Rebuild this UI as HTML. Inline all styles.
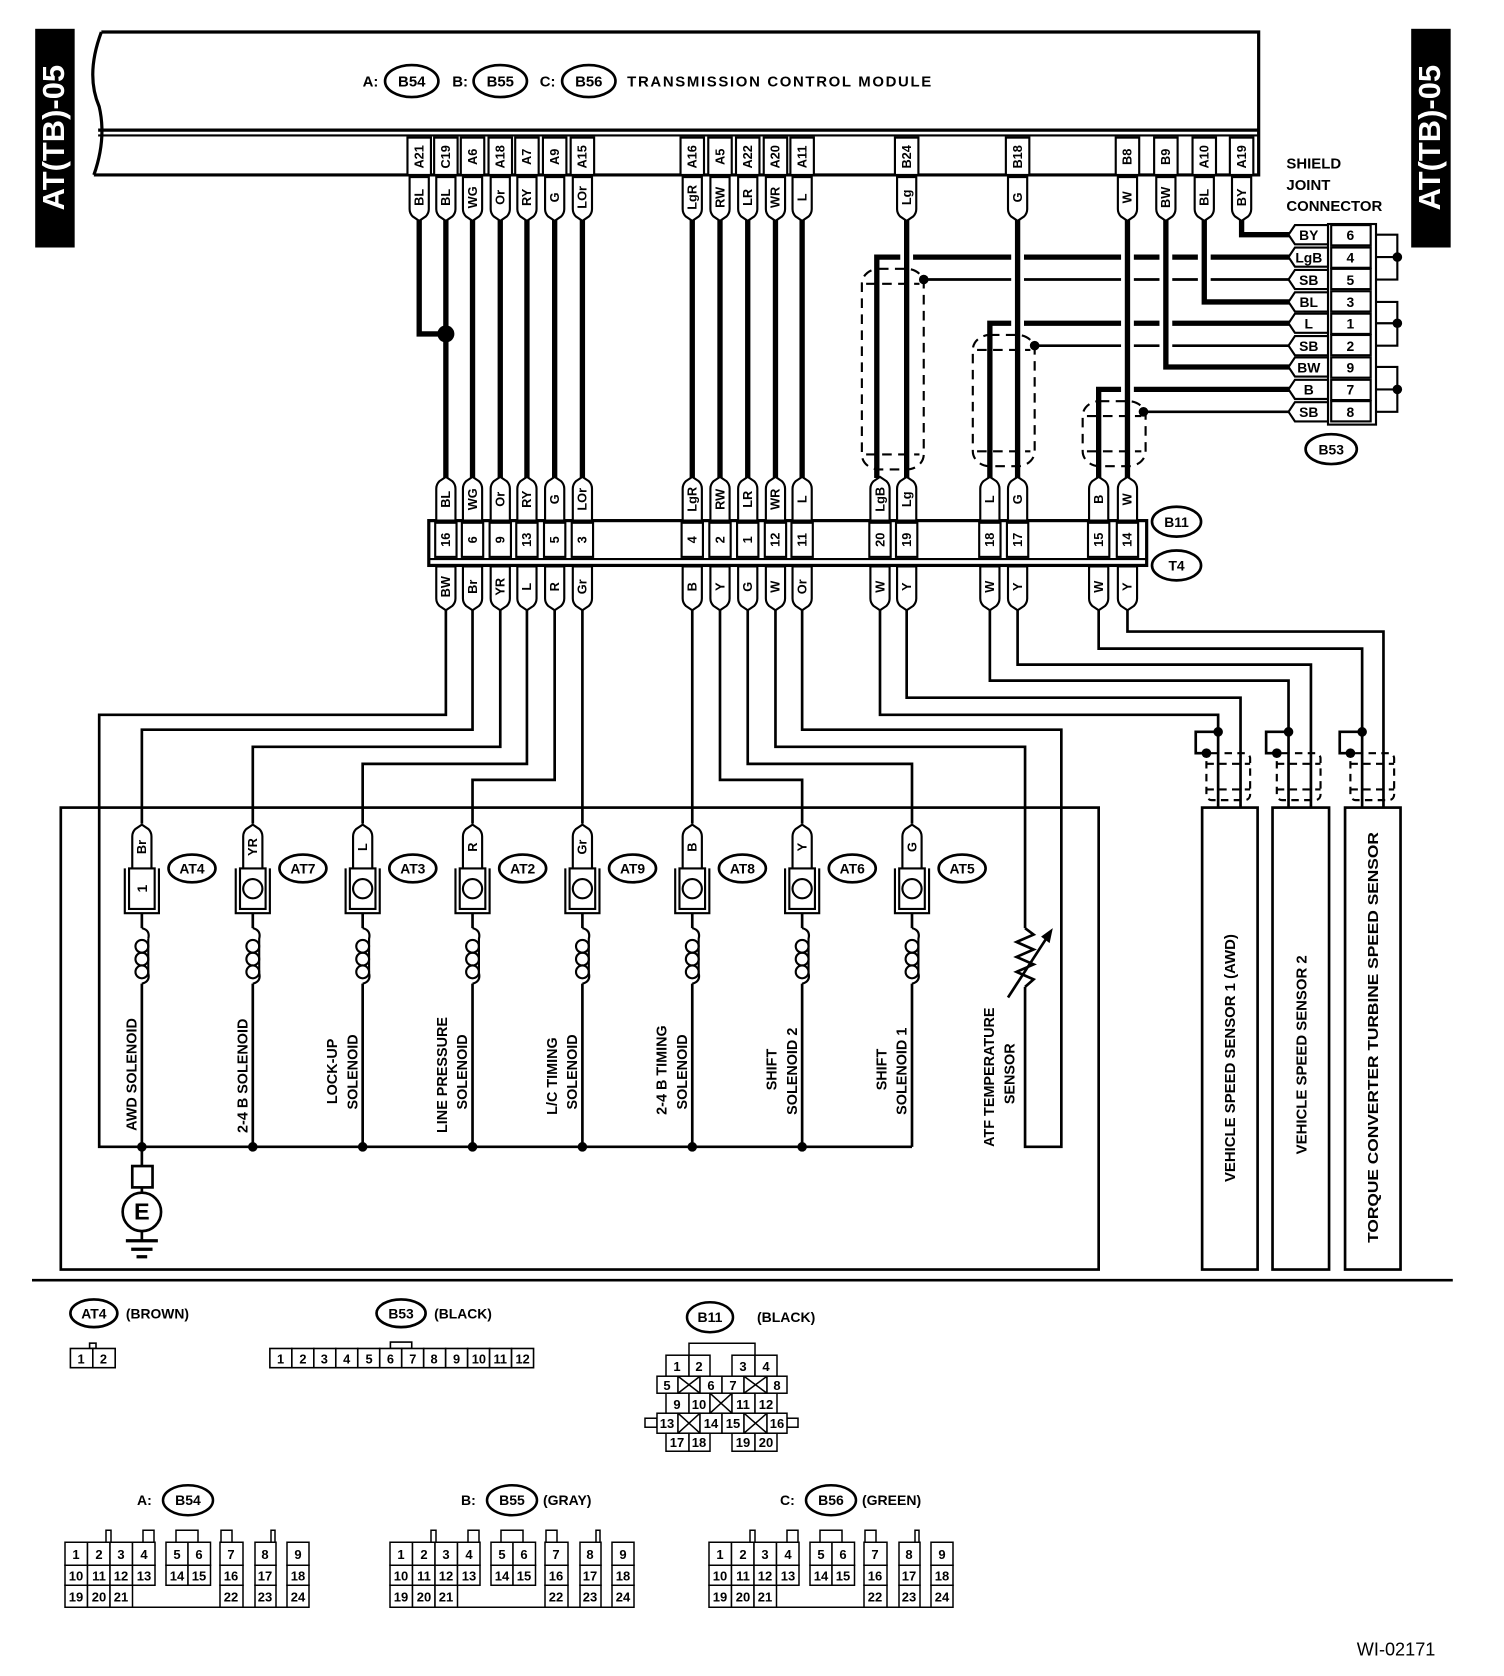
<!DOCTYPE html>
<html><head><meta charset="utf-8"><style>
html,body{margin:0;padding:0;background:#fff}
svg{display:block}
text{font-family:"Liberation Sans",Arial,sans-serif;font-weight:bold;fill:#000}
</style></head><body>
<svg xmlns="http://www.w3.org/2000/svg" width="1504" height="1676" viewBox="0 0 1410 1571" preserveAspectRatio="none">
<defs>
<path id="td" d="M-9,0 H9 V30 Q9,34 6,37 L0,41 L-6,37 Q-9,34 -9,30 Z" fill="#fff" stroke="#000" stroke-width="2"/>
<path id="tl" d="M0,-9 H-31 L-37,0 L-31,9 H0 Z" fill="#fff" stroke="#000" stroke-width="2"/>
</defs>
<rect width="1410" height="1571" fill="#fff"/>

<!-- side tags -->
<rect x="33" y="27" width="37" height="205" fill="#000"/>
<text transform="translate(60,129) rotate(-90)" text-anchor="middle" font-size="29" style="fill:#fff">AT(TB)-05</text>
<rect x="1323" y="27" width="37" height="205" fill="#000"/>
<text transform="translate(1350,129) rotate(-90)" text-anchor="middle" font-size="29" style="fill:#fff">AT(TB)-05</text>

<!-- TCM box -->
<g fill="none" stroke="#000" stroke-width="3">
<path d="M95,30 H1180 V164 H88"/>
<path d="M95,30 Q80,70 93,100 Q100,130 88,164"/>
<line x1="92" y1="122" x2="1180" y2="122"/>
<line x1="92" y1="127" x2="1180" y2="127" stroke-width="2"/>
</g>
<text x="340" y="81" font-size="14">A:</text>
<ellipse cx="386" cy="76" rx="25" ry="15" fill="#fff" stroke="#000" stroke-width="2.5"/><text x="386" y="81" font-size="14" text-anchor="middle">B54</text>
<text x="424" y="81" font-size="14">B:</text>
<ellipse cx="469" cy="76" rx="25" ry="15" fill="#fff" stroke="#000" stroke-width="2.5"/><text x="469" y="81" font-size="14" text-anchor="middle">B55</text>
<text x="506" y="81" font-size="14">C:</text>
<ellipse cx="552" cy="76" rx="25" ry="15" fill="#fff" stroke="#000" stroke-width="2.5"/><text x="552" y="81" font-size="14" text-anchor="middle">B56</text>
<text x="588" y="81" font-size="14" textLength="285">TRANSMISSION CONTROL MODULE</text>

<!-- pin label boxes -->
<g fill="#fff" stroke="#000" stroke-width="2">
<rect x="382" y="129" width="22" height="35"/><rect x="407" y="129" width="22" height="35"/><rect x="432" y="129" width="22" height="35"/><rect x="458" y="129" width="22" height="35"/><rect x="483" y="129" width="22" height="35"/><rect x="509" y="129" width="22" height="35"/><rect x="535" y="129" width="22" height="35"/>
<rect x="638" y="129" width="22" height="35"/><rect x="664" y="129" width="22" height="35"/><rect x="690" y="129" width="22" height="35"/><rect x="716" y="129" width="22" height="35"/><rect x="741" y="129" width="22" height="35"/>
<rect x="839" y="129" width="22" height="35"/><rect x="943" y="129" width="22" height="35"/>
<rect x="1046" y="129" width="22" height="35"/><rect x="1082" y="129" width="22" height="35"/><rect x="1118" y="129" width="22" height="35"/><rect x="1153" y="129" width="22" height="35"/>
</g>
<g font-size="12" text-anchor="middle">
<text transform="translate(397,147) rotate(-90)">A21</text><text transform="translate(422,147) rotate(-90)">C19</text><text transform="translate(447,147) rotate(-90)">A6</text><text transform="translate(473,147) rotate(-90)">A18</text><text transform="translate(498,147) rotate(-90)">A7</text><text transform="translate(524,147) rotate(-90)">A9</text><text transform="translate(550,147) rotate(-90)">A15</text>
<text transform="translate(653,147) rotate(-90)">A16</text><text transform="translate(679,147) rotate(-90)">A5</text><text transform="translate(705,147) rotate(-90)">A22</text><text transform="translate(731,147) rotate(-90)">A20</text><text transform="translate(756,147) rotate(-90)">A11</text>
<text transform="translate(854,147) rotate(-90)">B24</text><text transform="translate(958,147) rotate(-90)">B18</text>
<text transform="translate(1061,147) rotate(-90)">B8</text><text transform="translate(1097,147) rotate(-90)">B9</text><text transform="translate(1133,147) rotate(-90)">A10</text><text transform="translate(1168,147) rotate(-90)">A19</text>
</g>

<!-- thick horizontal wires -->
<g fill="none" stroke="#000" stroke-width="5">
<path d="M1210,241 H822 V448"/>
<path d="M1210,303 H928 V448"/>
<path d="M1210,365 H1030 V448"/>
</g>
<g fill="none" stroke="#000" stroke-width="2.5">
<path d="M1210,262 H866"/><path d="M1210,324 H970"/><path d="M1210,386 H1072"/>
</g>
<!-- halos -->
<g fill="none" stroke="#fff" stroke-width="12">
<path d="M850,225 V440"/><path d="M954,225 V440"/><path d="M1057,225 V440"/>
<path d="M1093,225 V337"/><path d="M1129,225 V276"/>
</g>
<!-- verticals -->
<g fill="none" stroke="#000" stroke-width="5">
<path d="M393,206 V313 H418"/>
<path d="M418,206 V448"/><path d="M443,206 V448"/><path d="M469,206 V448"/><path d="M494,206 V448"/><path d="M520,206 V448"/><path d="M546,206 V448"/>
<path d="M649,206 V448"/><path d="M675,206 V448"/><path d="M701,206 V448"/><path d="M727,206 V448"/><path d="M752,206 V448"/>
<path d="M850,206 V448"/><path d="M954,206 V448"/><path d="M1057,206 V448"/>
<path d="M1093,206 V344 H1210"/><path d="M1129,206 V283 H1210"/><path d="M1164,206 V220 H1210"/>
</g>
<circle cx="418" cy="313" r="8" fill="#000"/>
<circle cx="866" cy="262" r="4.5" fill="#000"/><circle cx="970" cy="324" r="4.5" fill="#000"/><circle cx="1072" cy="386" r="4.5" fill="#000"/>
<!-- shields -->
<g fill="none" stroke="#000" stroke-width="2" stroke-dasharray="9,6">
<rect x="808" y="252" width="58" height="188" rx="16" ry="14"/><line x1="812" y1="266" x2="862" y2="266"/><line x1="812" y1="426" x2="862" y2="426"/>
<rect x="912" y="314" width="58" height="123" rx="16" ry="14"/><line x1="916" y1="328" x2="966" y2="328"/><line x1="916" y1="423" x2="966" y2="423"/>
<rect x="1015" y="376" width="59" height="61" rx="16" ry="14"/><line x1="1019" y1="390" x2="1070" y2="390"/><line x1="1019" y1="423" x2="1070" y2="423"/>
</g>

<!-- TCM wire tags -->
<g>
<use href="#td" x="393" y="166"/><use href="#td" x="418" y="166"/><use href="#td" x="443" y="166"/><use href="#td" x="469" y="166"/><use href="#td" x="494" y="166"/><use href="#td" x="520" y="166"/><use href="#td" x="546" y="166"/>
<use href="#td" x="649" y="166"/><use href="#td" x="675" y="166"/><use href="#td" x="701" y="166"/><use href="#td" x="727" y="166"/><use href="#td" x="752" y="166"/>
<use href="#td" x="850" y="166"/><use href="#td" x="954" y="166"/><use href="#td" x="1057" y="166"/><use href="#td" x="1093" y="166"/><use href="#td" x="1129" y="166"/><use href="#td" x="1164" y="166"/>
</g>
<g font-size="12" text-anchor="middle">
<text transform="translate(397,185) rotate(-90)">BL</text><text transform="translate(422,185) rotate(-90)">BL</text><text transform="translate(447,185) rotate(-90)">WG</text><text transform="translate(473,185) rotate(-90)">Or</text><text transform="translate(498,185) rotate(-90)">RY</text><text transform="translate(524,185) rotate(-90)">G</text><text transform="translate(550,185) rotate(-90)">LOr</text>
<text transform="translate(653,185) rotate(-90)">LgR</text><text transform="translate(679,185) rotate(-90)">RW</text><text transform="translate(705,185) rotate(-90)">LR</text><text transform="translate(731,185) rotate(-90)">WR</text><text transform="translate(756,185) rotate(-90)">L</text>
<text transform="translate(854,185) rotate(-90)">Lg</text><text transform="translate(958,185) rotate(-90)">G</text><text transform="translate(1061,185) rotate(-90)">W</text><text transform="translate(1097,185) rotate(-90)">BW</text><text transform="translate(1133,185) rotate(-90)">BL</text><text transform="translate(1168,185) rotate(-90)">BY</text>
</g>

<!-- Shield joint connector B53 -->
<text x="1206" y="158" font-size="14">SHIELD</text>
<text x="1206" y="178" font-size="14">JOINT</text>
<text x="1206" y="198" font-size="14">CONNECTOR</text>
<rect x="1245" y="210" width="45" height="188" fill="#fff" stroke="#000" stroke-width="2"/>
<g fill="#fff" stroke="#000" stroke-width="2">
<rect x="1248" y="211" width="37" height="19"/><rect x="1248" y="232" width="37" height="19"/><rect x="1248" y="252" width="37" height="19"/><rect x="1248" y="273" width="37" height="19"/><rect x="1248" y="294" width="37" height="19"/><rect x="1248" y="314" width="37" height="19"/><rect x="1248" y="335" width="37" height="19"/><rect x="1248" y="356" width="37" height="19"/><rect x="1248" y="376" width="37" height="19"/>
</g>
<use href="#tl" x="1245" y="220"/><use href="#tl" x="1245" y="241"/><use href="#tl" x="1245" y="262"/><use href="#tl" x="1245" y="283"/><use href="#tl" x="1245" y="303"/><use href="#tl" x="1245" y="324"/><use href="#tl" x="1245" y="344"/><use href="#tl" x="1245" y="365"/><use href="#tl" x="1245" y="386"/>
<g font-size="13" text-anchor="middle">
<text x="1227" y="225">BY</text><text x="1227" y="246">LgB</text><text x="1227" y="267">SB</text><text x="1227" y="288">BL</text><text x="1227" y="308">L</text><text x="1227" y="329">SB</text><text x="1227" y="349">BW</text><text x="1227" y="370">B</text><text x="1227" y="391">SB</text>
<text x="1266" y="225">6</text><text x="1266" y="246">4</text><text x="1266" y="267">5</text><text x="1266" y="288">3</text><text x="1266" y="308">1</text><text x="1266" y="329">2</text><text x="1266" y="349">9</text><text x="1266" y="370">7</text><text x="1266" y="391">8</text>
</g>
<g fill="none" stroke="#000" stroke-width="2">
<path d="M1290,220 H1310 V262 H1290 M1290,241 H1310"/>
<path d="M1290,283 H1310 V324 H1290 M1290,303 H1310"/>
<path d="M1290,344 H1310 V386 H1290 M1290,365 H1310"/>
</g>
<circle cx="1310" cy="241" r="4.5" fill="#000"/><circle cx="1310" cy="303" r="4.5" fill="#000"/><circle cx="1310" cy="365" r="4.5" fill="#000"/>
<ellipse cx="1248" cy="421" rx="24" ry="14" fill="#fff" stroke="#000" stroke-width="2.5"/><text x="1248" y="426" font-size="13" text-anchor="middle">B53</text>

<!-- B11 / T4 connector -->
<rect x="402" y="488" width="673" height="42" fill="#fff" stroke="#000" stroke-width="3"/>
<line x1="402" y1="524" x2="1075" y2="524" stroke="#000" stroke-width="2"/>
<g fill="#fff" stroke="#000" stroke-width="2">
<rect x="408" y="490" width="20" height="32"/><rect x="433" y="490" width="20" height="32"/><rect x="459" y="490" width="20" height="32"/><rect x="484" y="490" width="20" height="32"/><rect x="510" y="490" width="20" height="32"/><rect x="536" y="490" width="20" height="32"/>
<rect x="639" y="490" width="20" height="32"/><rect x="665" y="490" width="20" height="32"/><rect x="691" y="490" width="20" height="32"/><rect x="717" y="490" width="20" height="32"/><rect x="742" y="490" width="20" height="32"/>
<rect x="815" y="490" width="20" height="32"/><rect x="840" y="490" width="20" height="32"/><rect x="918" y="490" width="20" height="32"/><rect x="944" y="490" width="20" height="32"/><rect x="1020" y="490" width="20" height="32"/><rect x="1047" y="490" width="20" height="32"/>
</g>
<g font-size="12" text-anchor="middle">
<text transform="translate(422,506) rotate(-90)">16</text><text transform="translate(447,506) rotate(-90)">6</text><text transform="translate(473,506) rotate(-90)">9</text><text transform="translate(498,506) rotate(-90)">13</text><text transform="translate(524,506) rotate(-90)">5</text><text transform="translate(550,506) rotate(-90)">3</text>
<text transform="translate(653,506) rotate(-90)">4</text><text transform="translate(679,506) rotate(-90)">2</text><text transform="translate(705,506) rotate(-90)">1</text><text transform="translate(731,506) rotate(-90)">12</text><text transform="translate(756,506) rotate(-90)">11</text>
<text transform="translate(829,506) rotate(-90)">20</text><text transform="translate(854,506) rotate(-90)">19</text><text transform="translate(932,506) rotate(-90)">18</text><text transform="translate(958,506) rotate(-90)">17</text><text transform="translate(1034,506) rotate(-90)">15</text><text transform="translate(1061,506) rotate(-90)">14</text>
</g>
<ellipse cx="1103" cy="489" rx="23" ry="14" fill="#fff" stroke="#000" stroke-width="2.5"/><text x="1103" y="494" font-size="13" text-anchor="middle">B11</text>
<ellipse cx="1103" cy="530" rx="23" ry="14" fill="#fff" stroke="#000" stroke-width="2.5"/><text x="1103" y="535" font-size="13" text-anchor="middle">T4</text>

<!-- B11 upper tags -->
<g>
<use href="#td" transform="translate(418,488) scale(1,-1)"/><use href="#td" transform="translate(443,488) scale(1,-1)"/><use href="#td" transform="translate(469,488) scale(1,-1)"/><use href="#td" transform="translate(494,488) scale(1,-1)"/><use href="#td" transform="translate(520,488) scale(1,-1)"/><use href="#td" transform="translate(546,488) scale(1,-1)"/>
<use href="#td" transform="translate(649,488) scale(1,-1)"/><use href="#td" transform="translate(675,488) scale(1,-1)"/><use href="#td" transform="translate(701,488) scale(1,-1)"/><use href="#td" transform="translate(727,488) scale(1,-1)"/><use href="#td" transform="translate(752,488) scale(1,-1)"/>
<use href="#td" transform="translate(825,488) scale(1,-1)"/><use href="#td" transform="translate(850,488) scale(1,-1)"/><use href="#td" transform="translate(928,488) scale(1,-1)"/><use href="#td" transform="translate(954,488) scale(1,-1)"/><use href="#td" transform="translate(1030,488) scale(1,-1)"/><use href="#td" transform="translate(1057,488) scale(1,-1)"/>
</g>
<g font-size="12" text-anchor="middle">
<text transform="translate(422,468) rotate(-90)">BL</text><text transform="translate(447,468) rotate(-90)">WG</text><text transform="translate(473,468) rotate(-90)">Or</text><text transform="translate(498,468) rotate(-90)">RY</text><text transform="translate(524,468) rotate(-90)">G</text><text transform="translate(550,468) rotate(-90)">LOr</text>
<text transform="translate(653,468) rotate(-90)">LgR</text><text transform="translate(679,468) rotate(-90)">RW</text><text transform="translate(705,468) rotate(-90)">LR</text><text transform="translate(731,468) rotate(-90)">WR</text><text transform="translate(756,468) rotate(-90)">L</text>
<text transform="translate(829,468) rotate(-90)">LgB</text><text transform="translate(854,468) rotate(-90)">Lg</text><text transform="translate(932,468) rotate(-90)">L</text><text transform="translate(958,468) rotate(-90)">G</text><text transform="translate(1034,468) rotate(-90)">B</text><text transform="translate(1061,468) rotate(-90)">W</text>
</g>

<!-- lower wires -->
<g fill="none" stroke="#000" stroke-width="2.5">
<path d="M418,572 V670 H93 V1075 H855"/>
<path d="M443,572 V684 H133 V772"/>
<path d="M469,572 V700 H237 V772"/>
<path d="M494,572 V716 H340 V772"/>
<path d="M520,572 V731 H443 V772"/>
<path d="M546,572 V772"/>
<path d="M649,572 V772"/>
<path d="M675,572 V731 H752 V772"/>
<path d="M701,572 V716 H855 V772"/>
<path d="M727,572 V700 H961 V870"/>
<path d="M752,572 V684 H995 V1075 H961 V925"/>
<path d="M825,572 V670 H1142 V757"/>
<path d="M850,572 V654 H1163 V757"/>
<path d="M928,572 V638 H1208 V757"/>
<path d="M954,572 V623 H1229 V757"/>
<path d="M1030,572 V608 H1277 V757"/>
<path d="M1057,572 V592 H1297 V757"/>
<path d="M1142,686 H1121 V706 H1131"/>
<path d="M1208,686 H1187 V706 H1197"/>
<path d="M1277,686 H1256 V706 H1266"/>
<!-- solenoid wires -->
<path d="M133,856 V870 M133,922 V1075"/><path d="M237,856 V870 M237,922 V1075"/><path d="M340,856 V870 M340,922 V1075"/><path d="M443,856 V870 M443,922 V1075"/><path d="M546,856 V870 M546,922 V1075"/><path d="M649,856 V870 M649,922 V1075"/><path d="M752,856 V870 M752,922 V1075"/><path d="M855,856 V870 M855,922 V1075"/>
<!-- resistor -->
<path d="M961,870 L969,876 L953,883 L969,890 L953,897 L969,904 L953,911 L969,918 L961,925"/>
<path d="M945,935 L982,878"/>
</g>
<path d="M987,870 L976,878 L984,884 Z" fill="#000"/>
<circle cx="1142" cy="686" r="4.5" fill="#000"/><circle cx="1131" cy="706" r="4.5" fill="#000"/>
<circle cx="1208" cy="686" r="4.5" fill="#000"/><circle cx="1197" cy="706" r="4.5" fill="#000"/>
<circle cx="1277" cy="686" r="4.5" fill="#000"/><circle cx="1266" cy="706" r="4.5" fill="#000"/>
<g fill="none" stroke="#000" stroke-width="2" stroke-dasharray="7,5">
<rect x="1131" y="706" width="41" height="44" rx="5"/><line x1="1131" y1="716" x2="1172" y2="716"/><line x1="1131" y1="740" x2="1172" y2="740"/>
<rect x="1197" y="706" width="41" height="44" rx="5"/><line x1="1197" y1="716" x2="1238" y2="716"/><line x1="1197" y1="740" x2="1238" y2="740"/>
<rect x="1266" y="706" width="41" height="44" rx="5"/><line x1="1266" y1="716" x2="1307" y2="716"/><line x1="1266" y1="740" x2="1307" y2="740"/>
</g>

<!-- lower tags -->
<g>
<use href="#td" x="418" y="531"/><use href="#td" x="443" y="531"/><use href="#td" x="469" y="531"/><use href="#td" x="494" y="531"/><use href="#td" x="520" y="531"/><use href="#td" x="546" y="531"/>
<use href="#td" x="649" y="531"/><use href="#td" x="675" y="531"/><use href="#td" x="701" y="531"/><use href="#td" x="727" y="531"/><use href="#td" x="752" y="531"/>
<use href="#td" x="825" y="531"/><use href="#td" x="850" y="531"/><use href="#td" x="928" y="531"/><use href="#td" x="954" y="531"/><use href="#td" x="1030" y="531"/><use href="#td" x="1057" y="531"/>
</g>
<g font-size="12" text-anchor="middle">
<text transform="translate(422,550) rotate(-90)">BW</text><text transform="translate(447,550) rotate(-90)">Br</text><text transform="translate(473,550) rotate(-90)">YR</text><text transform="translate(498,550) rotate(-90)">L</text><text transform="translate(524,550) rotate(-90)">R</text><text transform="translate(550,550) rotate(-90)">Gr</text>
<text transform="translate(653,550) rotate(-90)">B</text><text transform="translate(679,550) rotate(-90)">Y</text><text transform="translate(705,550) rotate(-90)">G</text><text transform="translate(731,550) rotate(-90)">W</text><text transform="translate(756,550) rotate(-90)">Or</text>
<text transform="translate(829,550) rotate(-90)">W</text><text transform="translate(854,550) rotate(-90)">Y</text><text transform="translate(932,550) rotate(-90)">W</text><text transform="translate(958,550) rotate(-90)">Y</text><text transform="translate(1034,550) rotate(-90)">W</text><text transform="translate(1061,550) rotate(-90)">Y</text>
</g>

<!-- solenoid box -->
<rect x="57" y="757" width="973" height="433" fill="none" stroke="#000" stroke-width="2.5"/>
<!-- sensor boxes -->
<g fill="none" stroke="#000" stroke-width="2.5">
<rect x="1127" y="757" width="52" height="433"/>
<rect x="1193" y="757" width="53" height="433"/>
<rect x="1261" y="757" width="52" height="433"/>
</g>
<g font-size="14" text-anchor="start">
<text transform="translate(1158,1108) rotate(-90)">VEHICLE SPEED SENSOR 1 (AWD)</text>
<text transform="translate(1225,1082) rotate(-90)">VEHICLE SPEED SENSOR 2</text>
<text transform="translate(1292,1165) rotate(-90)" textLength="385" lengthAdjust="spacingAndGlyphs">TORQUE CONVERTER TURBINE SPEED SENSOR</text>
</g>

<!-- solenoid connectors -->
<g id="sol">
<g fill="#fff" stroke="#000" stroke-width="2">
<path d="M117,814 V856 H149 V814" fill="none"/>
<rect x="121" y="814" width="24" height="38"/>
<path d="M221,814 V856 H253 V814" fill="none"/><rect x="225" y="814" width="24" height="38"/><circle cx="237" cy="833" r="9"/>
<path d="M324,814 V856 H356 V814" fill="none"/><rect x="328" y="814" width="24" height="38"/><circle cx="340" cy="833" r="9"/>
<path d="M427,814 V856 H459 V814" fill="none"/><rect x="431" y="814" width="24" height="38"/><circle cx="443" cy="833" r="9"/>
<path d="M530,814 V856 H562 V814" fill="none"/><rect x="534" y="814" width="24" height="38"/><circle cx="546" cy="833" r="9"/>
<path d="M633,814 V856 H665 V814" fill="none"/><rect x="637" y="814" width="24" height="38"/><circle cx="649" cy="833" r="9"/>
<path d="M736,814 V856 H768 V814" fill="none"/><rect x="740" y="814" width="24" height="38"/><circle cx="752" cy="833" r="9"/>
<path d="M839,814 V856 H871 V814" fill="none"/><rect x="843" y="814" width="24" height="38"/><circle cx="855" cy="833" r="9"/>
</g>
</g>
<text transform="translate(138,833) rotate(-90)" font-size="13" text-anchor="middle">1</text>
<g>
<use href="#td" transform="translate(133,814) scale(1,-1)"/><use href="#td" transform="translate(237,814) scale(1,-1)"/><use href="#td" transform="translate(340,814) scale(1,-1)"/><use href="#td" transform="translate(443,814) scale(1,-1)"/><use href="#td" transform="translate(546,814) scale(1,-1)"/><use href="#td" transform="translate(649,814) scale(1,-1)"/><use href="#td" transform="translate(752,814) scale(1,-1)"/><use href="#td" transform="translate(855,814) scale(1,-1)"/>
</g>
<g font-size="12" text-anchor="middle">
<text transform="translate(137,794) rotate(-90)">Br</text><text transform="translate(241,794) rotate(-90)">YR</text><text transform="translate(344,794) rotate(-90)">L</text><text transform="translate(447,794) rotate(-90)">R</text><text transform="translate(550,794) rotate(-90)">Gr</text><text transform="translate(653,794) rotate(-90)">B</text><text transform="translate(756,794) rotate(-90)">Y</text><text transform="translate(859,794) rotate(-90)">G</text>
</g>
<g fill="#fff" stroke="#000" stroke-width="2.5">
<ellipse cx="180" cy="814" rx="22" ry="13"/><ellipse cx="284" cy="814" rx="22" ry="13"/><ellipse cx="387" cy="814" rx="22" ry="13"/><ellipse cx="490" cy="814" rx="22" ry="13"/><ellipse cx="593" cy="814" rx="22" ry="13"/><ellipse cx="696" cy="814" rx="22" ry="13"/><ellipse cx="799" cy="814" rx="22" ry="13"/><ellipse cx="902" cy="814" rx="22" ry="13"/>
</g>
<g font-size="13" text-anchor="middle">
<text x="180" y="819">AT4</text><text x="284" y="819">AT7</text><text x="387" y="819">AT3</text><text x="490" y="819">AT2</text><text x="593" y="819">AT9</text><text x="696" y="819">AT8</text><text x="799" y="819">AT6</text><text x="902" y="819">AT5</text>
</g>
<!-- coils -->
<g fill="none" stroke="#000" stroke-width="2">
<path id="c1" d="M133,870 Q141,872 139,880 M133,922 Q141,920 139,912 M139,880 V912"/>
<circle cx="133" cy="887" r="6"/><circle cx="133" cy="899" r="6"/><circle cx="133" cy="911" r="6"/>
<path d="M237,870 Q245,872 243,880 V912 Q245,920 237,922"/><circle cx="237" cy="887" r="6"/><circle cx="237" cy="899" r="6"/><circle cx="237" cy="911" r="6"/>
<path d="M340,870 Q348,872 346,880 V912 Q348,920 340,922"/><circle cx="340" cy="887" r="6"/><circle cx="340" cy="899" r="6"/><circle cx="340" cy="911" r="6"/>
<path d="M443,870 Q451,872 449,880 V912 Q451,920 443,922"/><circle cx="443" cy="887" r="6"/><circle cx="443" cy="899" r="6"/><circle cx="443" cy="911" r="6"/>
<path d="M546,870 Q554,872 552,880 V912 Q554,920 546,922"/><circle cx="546" cy="887" r="6"/><circle cx="546" cy="899" r="6"/><circle cx="546" cy="911" r="6"/>
<path d="M649,870 Q657,872 655,880 V912 Q657,920 649,922"/><circle cx="649" cy="887" r="6"/><circle cx="649" cy="899" r="6"/><circle cx="649" cy="911" r="6"/>
<path d="M752,870 Q760,872 758,880 V912 Q760,920 752,922"/><circle cx="752" cy="887" r="6"/><circle cx="752" cy="899" r="6"/><circle cx="752" cy="911" r="6"/>
<path d="M855,870 Q863,872 861,880 V912 Q863,920 855,922"/><circle cx="855" cy="887" r="6"/><circle cx="855" cy="899" r="6"/><circle cx="855" cy="911" r="6"/>
</g>
<g fill="#000">
<circle cx="133" cy="1075" r="4.5"/><circle cx="237" cy="1075" r="4.5"/><circle cx="340" cy="1075" r="4.5"/><circle cx="443" cy="1075" r="4.5"/><circle cx="546" cy="1075" r="4.5"/><circle cx="649" cy="1075" r="4.5"/><circle cx="752" cy="1075" r="4.5"/>
</g>
<!-- solenoid labels -->
<g font-size="13.5">
<text transform="translate(128,1060) rotate(-90)">AWD SOLENOID</text>
<text transform="translate(232,1062) rotate(-90)">2-4 B SOLENOID</text>
<text transform="translate(316,1035) rotate(-90)">LOCK-UP</text><text transform="translate(335,1040) rotate(-90)">SOLENOID</text>
<text transform="translate(419,1062) rotate(-90)">LINE PRESSURE</text><text transform="translate(438,1040) rotate(-90)">SOLENOID</text>
<text transform="translate(522,1045) rotate(-90)">L/C TIMING</text><text transform="translate(541,1040) rotate(-90)">SOLENOID</text>
<text transform="translate(625,1045) rotate(-90)">2-4 B TIMING</text><text transform="translate(644,1040) rotate(-90)">SOLENOID</text>
<text transform="translate(728,1022) rotate(-90)">SHIFT</text><text transform="translate(747,1045) rotate(-90)">SOLENOID 2</text>
<text transform="translate(831,1022) rotate(-90)">SHIFT</text><text transform="translate(850,1045) rotate(-90)">SOLENOID 1</text>
<text transform="translate(932,1075) rotate(-90)">ATF TEMPERATURE</text><text transform="translate(951,1035) rotate(-90)">SENSOR</text>
</g>
<!-- ground -->
<g fill="none" stroke="#000" stroke-width="2.5">
<path d="M133,1075 V1093"/><rect x="124" y="1093" width="19" height="20" fill="#fff"/>
<path d="M133,1113 V1118"/>
<circle cx="133" cy="1136" r="18" fill="#fff"/>
<path d="M133,1154 V1162"/>
<path d="M118,1163 H148 M123,1171 H143 M128,1178 H138" stroke-width="3"/>
</g>
<text x="133" y="1143" font-size="22" text-anchor="middle">E</text>

<!-- separator -->
<line x1="30" y1="1200" x2="1362" y2="1200" stroke="#000" stroke-width="2.5"/>

<!-- bottom connector views -->
<ellipse cx="88" cy="1231" rx="22" ry="13" fill="#fff" stroke="#000" stroke-width="2.5"/><text x="88" y="1236" font-size="13" text-anchor="middle">AT4</text>
<text x="118" y="1236" font-size="13">(BROWN)</text>
<g fill="#fff" stroke="#000" stroke-width="1.5"><rect x="84" y="1259" width="6" height="5"/><rect x="66" y="1264" width="21" height="18"/><rect x="87" y="1264" width="21" height="18"/></g>
<g font-size="12" font-weight="normal" text-anchor="middle" style="font-weight:normal"><text x="76" y="1278">1</text><text x="97" y="1278">2</text></g>

<ellipse cx="376" cy="1231" rx="23" ry="13" fill="#fff" stroke="#000" stroke-width="2.5"/><text x="376" y="1236" font-size="13" text-anchor="middle">B53</text>
<text x="407" y="1236" font-size="13">(BLACK)</text>
<g fill="#fff" stroke="#000" stroke-width="1.5">
<rect x="366" y="1258" width="20" height="6"/>
<rect x="253" y="1264" width="20.6" height="18"/><rect x="273.6" y="1264" width="20.6" height="18"/><rect x="294.2" y="1264" width="20.6" height="18"/><rect x="314.8" y="1264" width="20.6" height="18"/><rect x="335.4" y="1264" width="20.6" height="18"/><rect x="356" y="1264" width="20.6" height="18"/><rect x="376.6" y="1264" width="20.6" height="18"/><rect x="397.2" y="1264" width="20.6" height="18"/><rect x="417.8" y="1264" width="20.6" height="18"/><rect x="438.4" y="1264" width="20.6" height="18"/><rect x="459" y="1264" width="20.6" height="18"/><rect x="479.6" y="1264" width="20.6" height="18"/>
</g>
<g font-size="12" text-anchor="middle" style="font-weight:normal">
<text x="263" y="1278">1</text><text x="284" y="1278">2</text><text x="304" y="1278">3</text><text x="325" y="1278">4</text><text x="346" y="1278">5</text><text x="366" y="1278">6</text><text x="387" y="1278">7</text><text x="407" y="1278">8</text><text x="428" y="1278">9</text><text x="449" y="1278">10</text><text x="469" y="1278">11</text><text x="490" y="1278">12</text>
</g>

<!-- B11 face (orig coords) -->
<g transform="scale(0.9375)">
<ellipse cx="710" cy="1317" rx="23" ry="15" fill="#fff" stroke="#000" stroke-width="2.5"/><text x="710" y="1322" font-size="14" text-anchor="middle">B11</text>
<text x="757" y="1322" font-size="14">(BLACK)</text>
<g fill="#fff" stroke="#000" stroke-width="1.5">
<path d="M689,1355 V1343 H755 V1355" fill="none"/>
<rect x="666" y="1355" width="23" height="21"/><rect x="689" y="1355" width="21" height="21"/><rect x="732" y="1355" width="23" height="21"/><rect x="755" y="1355" width="22" height="21"/>
<rect x="657" y="1376" width="21" height="17"/><rect x="678" y="1376" width="22" height="17"/><rect x="700" y="1376" width="22" height="17"/><rect x="722" y="1376" width="22" height="17"/><rect x="744" y="1376" width="23" height="17"/><rect x="767" y="1376" width="20" height="17"/>
<rect x="666" y="1393" width="23" height="20"/><rect x="689" y="1393" width="21" height="20"/><rect x="710" y="1393" width="22" height="20"/><rect x="732" y="1393" width="23" height="20"/><rect x="755" y="1393" width="22" height="20"/>
<rect x="645" y="1418" width="12" height="9"/><rect x="787" y="1418" width="11" height="9"/>
<rect x="657" y="1413" width="21" height="20"/><rect x="678" y="1413" width="22" height="20"/><rect x="700" y="1413" width="22" height="20"/><rect x="722" y="1413" width="22" height="20"/><rect x="744" y="1413" width="23" height="20"/><rect x="767" y="1413" width="20" height="20"/>
<rect x="666" y="1433" width="23" height="18"/><rect x="689" y="1433" width="21" height="18"/><rect x="732" y="1433" width="23" height="18"/><rect x="755" y="1433" width="22" height="18"/>
<path d="M678,1376 L700,1393 M700,1376 L678,1393 M744,1376 L767,1393 M767,1376 L744,1393 M710,1393 L732,1413 M732,1393 L710,1413 M678,1413 L700,1433 M700,1413 L678,1433 M744,1413 L767,1433 M767,1413 L744,1433"/>
</g>
<g font-size="13" text-anchor="middle" style="font-weight:normal">
<text x="677" y="1371">1</text><text x="699" y="1371">2</text><text x="743" y="1371">3</text><text x="766" y="1371">4</text>
<text x="667" y="1390">5</text><text x="711" y="1390">6</text><text x="733" y="1390">7</text><text x="777" y="1390">8</text>
<text x="677" y="1409">9</text><text x="699" y="1409">10</text><text x="743" y="1409">11</text><text x="766" y="1409">12</text>
<text x="667" y="1428">13</text><text x="711" y="1428">14</text><text x="733" y="1428">15</text><text x="777" y="1428">16</text>
<text x="677" y="1447">17</text><text x="699" y="1447">18</text><text x="743" y="1447">19</text><text x="766" y="1447">20</text>
</g>
</g>

<!-- B54/B55/B56 faces (orig coords) -->
<defs>
<g id="face">
<g fill="#fff" stroke="#000" stroke-width="1.5">
<rect x="106" y="1530" width="5" height="12"/><rect x="143" y="1530" width="11" height="12"/><rect x="176" y="1530" width="22" height="12"/><rect x="221" y="1530" width="11" height="12"/><rect x="271" y="1530" width="4" height="12"/>
<rect x="65" y="1542" width="22.5" height="23"/><rect x="87.5" y="1542" width="22.5" height="23"/><rect x="110" y="1542" width="22.5" height="23"/><rect x="132.5" y="1542" width="22.5" height="23"/>
<rect x="65" y="1565" width="22.5" height="20"/><rect x="87.5" y="1565" width="22.5" height="20"/><rect x="110" y="1565" width="22.5" height="20"/><rect x="132.5" y="1565" width="22.5" height="20"/>
<rect x="65" y="1585" width="22.5" height="22"/><rect x="87.5" y="1585" width="22.5" height="22"/><rect x="110" y="1585" width="22.5" height="22"/>
<rect x="166" y="1542" width="22" height="23"/><rect x="188" y="1542" width="22.5" height="23"/><rect x="166" y="1565" width="22" height="20"/><rect x="188" y="1565" width="22.5" height="20"/>
<rect x="220" y="1542" width="23" height="23"/><rect x="220" y="1565" width="23" height="20"/><rect x="220" y="1585" width="23" height="22"/>
<rect x="255" y="1542" width="21" height="23"/><rect x="255" y="1565" width="21" height="20"/><rect x="255" y="1585" width="21" height="22"/>
<rect x="287" y="1542" width="22" height="23"/><rect x="287" y="1565" width="22" height="20"/><rect x="287" y="1585" width="22" height="22"/>
<path d="M132.5,1607 H287" fill="none"/>
</g>
<g font-size="13" text-anchor="middle" style="font-weight:normal">
<text x="76" y="1559">1</text><text x="99" y="1559">2</text><text x="121" y="1559">3</text><text x="144" y="1559">4</text><text x="177" y="1559">5</text><text x="199" y="1559">6</text><text x="231" y="1559">7</text><text x="265" y="1559">8</text><text x="298" y="1559">9</text>
<text x="76" y="1580">10</text><text x="99" y="1580">11</text><text x="121" y="1580">12</text><text x="144" y="1580">13</text><text x="177" y="1580">14</text><text x="199" y="1580">15</text><text x="231" y="1580">16</text><text x="265" y="1580">17</text><text x="298" y="1580">18</text>
<text x="76" y="1601">19</text><text x="99" y="1601">20</text><text x="121" y="1601">21</text><text x="231" y="1601">22</text><text x="265" y="1601">23</text><text x="298" y="1601">24</text>
</g>
</g>
</defs>
<g transform="scale(0.9375)">
<use href="#face"/>
<use href="#face" x="325"/>
<use href="#face" x="644"/>
<g fill="#fff" stroke="#000" stroke-width="2.5">
<ellipse cx="188" cy="1500" rx="25" ry="15"/><ellipse cx="512" cy="1500" rx="25" ry="15"/><ellipse cx="831" cy="1500" rx="25" ry="15"/>
</g>
<g font-size="14">
<text x="188" y="1505" text-anchor="middle">B54</text><text x="137" y="1505">A:</text>
<text x="512" y="1505" text-anchor="middle">B55</text><text x="461" y="1505">B:</text><text x="543" y="1505">(GRAY)</text>
<text x="831" y="1505" text-anchor="middle">B56</text><text x="780" y="1505">C:</text><text x="862" y="1505">(GREEN)</text>
</g>
</g>

<text x="1272" y="1552" font-size="17" style="font-weight:normal">WI-02171</text>
</svg>
</body></html>
